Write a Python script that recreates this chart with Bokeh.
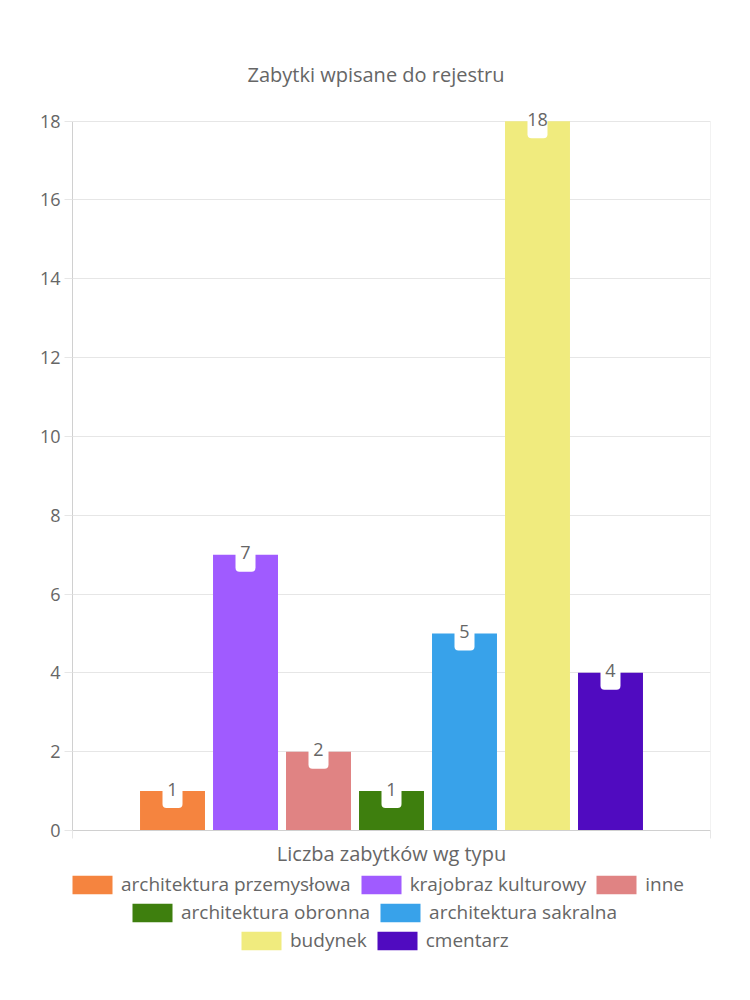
from bokeh.plotting import figure
from bokeh.layouts import column
from bokeh.models import Range1d, FixedTicker, Legend, LegendItem, Rect
from bokeh.embed import file_html
from bokeh.resources import INLINE
from bokeh.core.properties import value

# ---- data ----
title_text = "Zabytki wpisane do rejestru"
group_label = "Liczba zabytków wg typu"
categories = ["architektura przemysłowa", "krajobraz kulturowy", "inne",
              "architektura obronna", "architektura sakralna", "budynek", "cmentarz"]
counts = [1, 7, 2, 1, 5, 18, 4]
colors = ["#F5843F", "#A05BFF", "#E08383", "#3E7F0E", "#38A2EA", "#F0EB7E", "#500BC0"]
y_ticks = [0, 2, 4, 6, 8, 10, 12, 14, 16, 18]
legend_rows = [[0, 1, 2], [3, 4], [5, 6]]

FONT = "Open Sans"
TXT = "#666666"
GRID = "#e6e6e6"
AXIS = "#d0d0d0"
FS = "18px"
FS_BIG = "20px"
FS_LEG = "19px"

positions = list(range(len(categories)))
pad = 1.37
y_max = max(y_ticks)
y_top = y_max + 0.6   # headroom so the top value label is not clipped

p = figure(width=750, height=870, output_backend="svg", toolbar_location=None,
           x_range=Range1d(-pad, len(categories) - 1 + pad), y_range=Range1d(0, y_top),
           min_border_left=72, min_border_right=40, min_border_top=97, min_border_bottom=40)
p.outline_line_color = None
p.background_fill_color = "white"

for i, (c, v, col) in enumerate(zip(categories, counts, colors)):
    p.vbar(x=[positions[i]], top=[v], bottom=0, width=0.89,
           fill_color=col, line_color=None)

# value label boxes and texts
extra = {"border_radius": 4} if "border_radius" in Rect.properties() else {}
p.rect(x=positions, y=counts, width=20, height=34, width_units="screen",
       height_units="screen", fill_color="white", line_color=None, **extra)
p.text(x=positions, y=counts, text=[str(v) for v in counts], text_align="center",
       text_baseline="middle", y_offset=-2, text_font=value(FONT),
       text_font_size=FS, text_color=TXT)

edges = [-pad, len(categories) - 1 + pad]
# right frame border
p.segment(x0=[edges[1]], y0=[0], x1=[edges[1]], y1=[y_max], line_color=GRID, line_width=1)

# axes
p.yaxis.ticker = FixedTicker(ticks=y_ticks)
p.yaxis.bounds = (0, y_max)
p.yaxis.minor_tick_line_color = None
p.yaxis.major_tick_out = 8
p.yaxis.major_tick_in = 0
p.yaxis.major_tick_line_color = GRID
p.yaxis.axis_line_color = AXIS
p.yaxis.major_label_standoff = 4
p.yaxis.major_label_text_font = FONT
p.yaxis.major_label_text_font_size = FS
p.yaxis.major_label_text_color = TXT

p.xaxis.ticker = FixedTicker(ticks=edges)
p.xaxis.minor_tick_line_color = None
p.xaxis.major_tick_out = 8
p.xaxis.major_tick_in = 0
p.xaxis.major_tick_line_color = GRID
p.xaxis.axis_line_color = AXIS
p.xaxis.major_label_overrides = {e: "" for e in edges}
p.xaxis.major_label_standoff = 0
p.xaxis.major_label_text_font_size = "1px"
p.xaxis.axis_label = group_label
p.xaxis.axis_label_standoff = 1
p.xaxis.axis_label_text_font = FONT
p.xaxis.axis_label_text_font_size = FS_BIG
p.xaxis.axis_label_text_font_style = "normal"
p.xaxis.axis_label_text_color = TXT

p.xgrid.visible = False
p.ygrid.ticker = FixedTicker(ticks=y_ticks)
p.ygrid.grid_line_color = GRID

p.title.text = title_text
p.title.align = "left"
p.title.offset = 175
p.title.text_font = FONT
p.title.text_font_size = FS_BIG
p.title.text_font_style = "normal"
p.title.text_color = TXT
p.title.standoff = 20

# ---- legend strip below (frame is aligned with the chart's frame) ----
q = figure(width=750, height=130, output_backend="svg", toolbar_location=None,
           x_range=Range1d(100, 101), y_range=Range1d(100, 101), min_border=0,
           x_axis_location=None, y_axis_location=None)
q.outline_line_color = None
q.grid.visible = False

swatches = [q.vbar(x=[positions[i]], top=[counts[i]], width=0.89, fill_color=col,
                   line_color=None, visible=False)
            for i, col in enumerate(colors)]

row_x = [-5, 55, 164]
row_y = [103, 75, 47]
for row, vx, vy in zip(legend_rows, row_x, row_y):
    items = [LegendItem(label=categories[i], renderers=[swatches[i]]) for i in row]
    leg = Legend(items=items, orientation="horizontal", location=(vx, vy),
                 glyph_width=50, glyph_height=23, label_height=22, label_standoff=4,
                 spacing=5, padding=0, margin=0, border_line_color=None,
                 background_fill_alpha=0, label_text_font=FONT,
                 label_text_font_size=FS_LEG, label_text_color=TXT)
    q.add_layout(leg, "center")

layout = column(p, q, spacing=0)
open("out.html", "w").write(file_html(layout, INLINE))
